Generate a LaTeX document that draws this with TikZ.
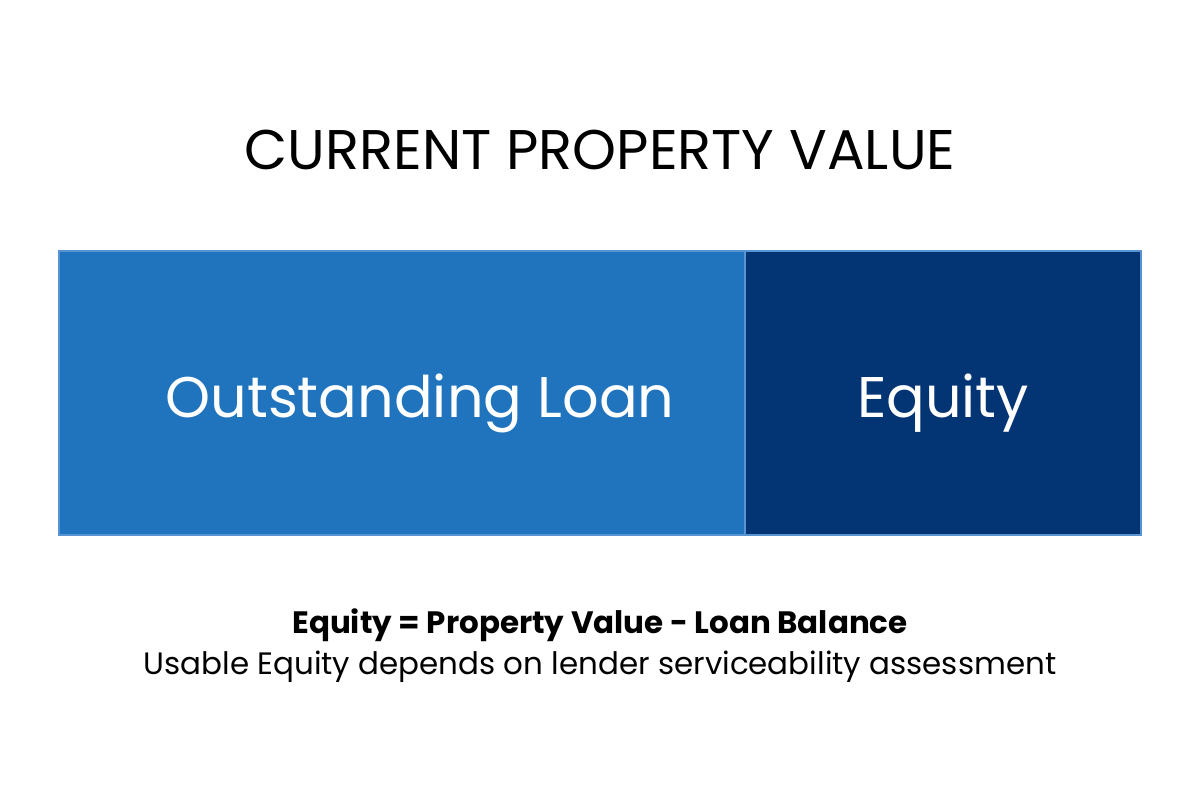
\documentclass[tikz,border=0pt]{standalone}
\usepackage{fontspec}
\setmainfont{Poppins}
\definecolor{loanblue}{HTML}{1F74BD}
\definecolor{equityblue}{HTML}{033473}
\definecolor{edgeblue}{HTML}{5A93D2}
\tikzset{
	bar/.style={draw=edgeblue, line width=0.3pt, minimum height=2.84cm, inner sep=0pt},
	barlabel/.style={text=white, font=\fontsize{16.3}{19}\selectfont},
}
\begin{document}
\begin{tikzpicture}[scale=1]
	
	\useasboundingbox[fill=white] (0,0) rectangle (12,8);
	
	% title
	\node[font=\fontsize{15.9}{19}\selectfont] (title) at (6,6.5) {CURRENT PROPERTY VALUE};
	
	% bars
	\node[bar, fill=loanblue, minimum width=6.86cm] (loan) at (4.02,4.07) {};
	\node[bar, fill=equityblue, minimum width=3.96cm] (equity) at (9.43,4.07) {};
	\node[barlabel] (loantext) at (4.20,3.97) {Outstanding Loan};
	\node[barlabel] (equitytext) at (9.43,3.97) {Equity};
	
	% formula
	\node[font=\fontsize{8.8}{11}\bfseries] (formula) at (6,1.75) {Equity = Property Value - Loan Balance};
	\node[font=\fontsize{8.8}{11}\selectfont] (note) at (6,1.33) {Usable Equity depends on lender serviceability assessment};
	
\end{tikzpicture}
\end{document}
